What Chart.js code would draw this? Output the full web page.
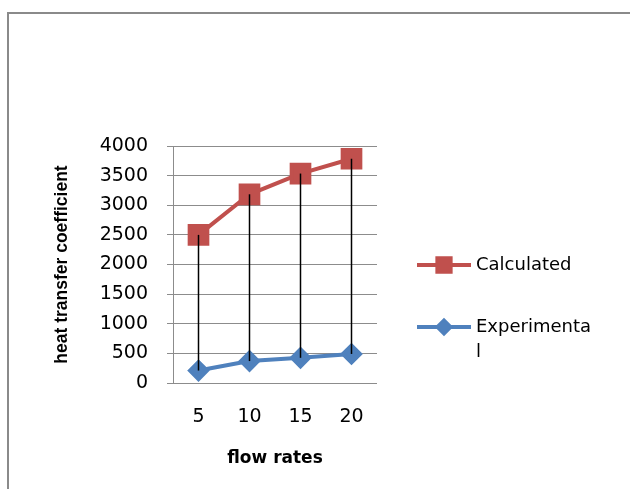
<!DOCTYPE html>
<html>
<head>
<meta charset="utf-8">
<script src="https://cdn.jsdelivr.net/npm/chart.js@4/dist/chart.umd.min.js"></script>
<style>
  html, body { margin: 0; padding: 0; background: #fff; overflow: hidden; }
  #wrap { position: relative; width: 630px; height: 489px; }
  #frame { position: absolute; left: 7px; top: 12px; width: 700px; height: 600px;
           border-left: 2px solid #8a8a8a; border-top: 2px solid #8a8a8a; }
  #myChart { position: absolute; left: 0; top: 0; }
</style>
</head>
<body>
<div id="wrap">
  <div id="frame"></div>
  <canvas id="myChart" width="630" height="489"></canvas>
</div>
<script>
'use strict'

const flowRates = ['5', '10', '15', '20'];
const calculated = [2500, 3185, 3535, 3785];
const experimental = [210, 370, 425, 490];
const yTicks = [0, 500, 1000, 1500, 2000, 2500, 3000, 3500, 4000];

const tickFont = { family: 'DejaVu Sans', size: 19 };

// Excel style high-low lines between the two series
const dropLines = {
    id: 'dropLines',
    afterDatasetsDraw(chart) {
        const ctx = chart.ctx;
        const top = chart.getDatasetMeta(0).data;
        const bottom = chart.getDatasetMeta(1).data;
        ctx.save();
        ctx.strokeStyle = '#000';
        ctx.lineWidth = 1.5;
        for (let i = 0; i < top.length; i++) {
            ctx.beginPath();
            ctx.moveTo(top[i].x, top[i].y);
            ctx.lineTo(bottom[i].x, bottom[i].y);
            ctx.stroke();
        }
        ctx.restore();
    }
};

// legend drawn by hand so the long label wraps like the original
const sideLegend = {
    id: 'sideLegend',
    afterDraw(chart) {
        const ctx = chart.ctx;
        const rows = [
            { ds: chart.data.datasets[0], y: 265, lines: ['Calculated'] },
            { ds: chart.data.datasets[1], y: 327, lines: ['Experimenta', 'l'] }
        ];
        ctx.save();
        rows.forEach(r => {
            ctx.strokeStyle = r.ds.borderColor;
            ctx.lineWidth = 4;
            ctx.beginPath();
            ctx.moveTo(417, r.y);
            ctx.lineTo(471, r.y);
            ctx.stroke();
            Chart.helpers.drawPoint(ctx, {
                pointStyle: r.ds.pointStyle,
                radius: r.ds.pointRadius * 0.75,
                borderWidth: 1
            }, 444, r.y);
            ctx.fillStyle = r.ds.borderColor;
            ctx.fill();
            ctx.fillStyle = '#000';
            ctx.font = '18px "DejaVu Sans"';
            ctx.textBaseline = 'middle';
            r.lines.forEach((t, k) => ctx.fillText(t, 476, r.y + k * 25));
        });
        ctx.restore();
    }
};

const data = {
    labels: flowRates,
    datasets: [{
        label: 'Calculated',
        data: calculated,
        borderColor: '#C0504D',
        backgroundColor: '#C0504D',
        borderWidth: 4,
        pointStyle: 'rect',
        pointRadius: 12.5,
        pointHoverRadius: 12.5
    }, {
        label: 'Experimental',
        data: experimental,
        borderColor: '#4F81BD',
        backgroundColor: '#4F81BD',
        borderWidth: 4,
        pointStyle: 'rectRot',
        pointRadius: 8.5,
        pointHoverRadius: 8.5
    }]
};

const config = {
    type: 'line',
    data: data,
    plugins: [dropLines, sideLegend],
    options: {
        responsive: false,
        animation: false,
        layout: { padding: { left: 52, right: 253, top: 146, bottom: 0 } },
        plugins: { legend: { display: false }, tooltip: { enabled: false } },
        scales: {
            x: {
                offset: true,
                grid: { display: false },
                border: { display: false },
                ticks: { font: tickFont, color: '#000', padding: 15 },
                title: {
                    display: true, text: 'flow rates', color: '#000',
                    font: { family: 'DejaVu Sans', size: 17, weight: 'bold' },
                    padding: { top: 0, bottom: 20 }
                },
                afterFit(scale) { scale.height = 106; }
            },
            y: {
                min: 0, max: 4000,
                afterBuildTicks(scale) { scale.ticks = yTicks.map(v => ({ value: v })); },
                grid: { color: '#8c8c8c', lineWidth: 1, tickLength: 6 },
                border: { color: '#8c8c8c', width: 1 },
                ticks: { font: tickFont, color: '#000', padding: 19, callback: v => String(v) },
                title: {
                    display: true, text: 'heat transfer coefficient', color: '#000',
                    font: { family: 'Liberation Sans', size: 17.5, weight: 'bold' },
                    padding: 0
                },
                afterFit(scale) { scale.width = 121; }
            }
        }
    }
};

const myChart = new Chart(document.getElementById('myChart'), config);
</script>
</body>
</html>
